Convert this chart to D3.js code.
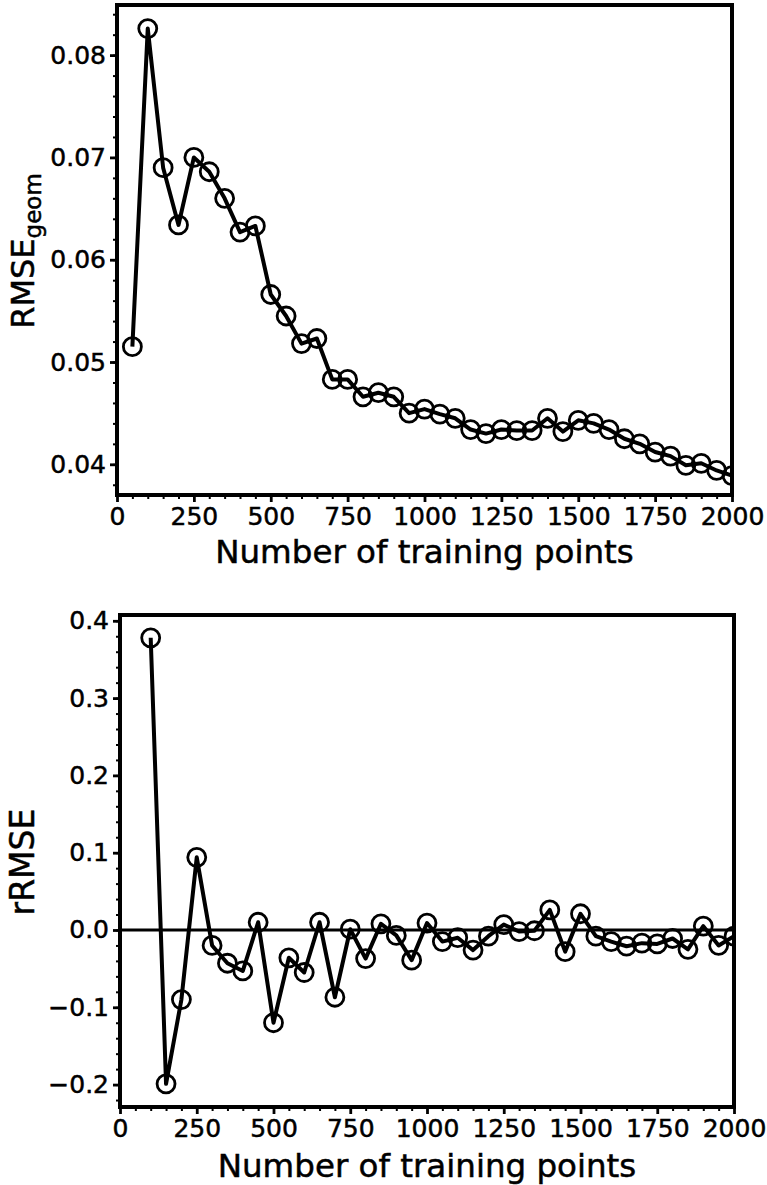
<!DOCTYPE html>
<html>
<head>
<meta charset="utf-8">
<script src="https://cdn.jsdelivr.net/npm/d3@7"></script>
<style>
    body { margin: 0; background: #fff; }
    svg { display: block; font-family: "DejaVu Sans", sans-serif; }
    text { stroke: #000; stroke-width: 0.5px; }
</style>
</head>
<body>
<div id="chart"></div>
<script>
// training set sizes
const trainTop = [50, 100, 150, 200, 250, 300, 350, 400, 450, 500, 550, 600, 650, 700, 750, 800, 850, 900, 950, 1000,
    1050, 1100, 1150, 1200, 1250, 1300, 1350, 1400, 1450, 1500, 1550, 1600, 1650, 1700, 1750, 1800, 1850, 1900, 1950, 2000];
const rmseGeom = [0.0515, 0.0826, 0.0690, 0.0634, 0.0700, 0.0686, 0.0660, 0.0627, 0.0633, 0.0566, 0.0545, 0.0518, 0.0523,
    0.0483, 0.0483, 0.0466, 0.0470, 0.0466, 0.0450, 0.0454, 0.0449, 0.0445, 0.0434, 0.0430, 0.0434, 0.0433, 0.0433,
    0.0445, 0.0432, 0.0443, 0.0440, 0.0434, 0.0425, 0.0420, 0.0412, 0.0408, 0.0399, 0.0401, 0.0394, 0.0389];

const trainBottom = trainTop.slice(1); // rRMSE starts at 100
const rRMSE = [0.378, -0.199, -0.090, 0.094, -0.020, -0.043, -0.053, 0.010, -0.120, -0.036, -0.055, 0.010, -0.087,
    0.001, -0.037, 0.008, -0.007, -0.039, 0.009, -0.015, -0.010, -0.026, -0.008, 0.007, -0.002, -0.001, 0.026,
    -0.028, 0.021, -0.008, -0.015, -0.021, -0.017, -0.018, -0.011, -0.025, 0.005, -0.020, -0.008];

const xTicks = [0, 250, 500, 750, 1000, 1250, 1500, 1750, 2000];
const topYTicks = [0.04, 0.05, 0.06, 0.07, 0.08];
const bottomYTicks = [-0.2, -0.1, 0.0, 0.1, 0.2, 0.3, 0.4];

const W = 767, H = 1185;

const svg = d3.select("#chart").append("svg")
    .attr("width", W)
    .attr("height", H);

// draw one panel
function panel(opts) {
    const { left, right, top, bottom, xs, ys, yDomain, yTicks, yMinorStep, yFmt, id } = opts;

    const x = d3.scaleLinear().domain([0, 2000]).range([left, right]);
    const y = d3.scaleLinear().domain(yDomain).range([bottom, top]);

    const g = svg.append("g");

    g.append("clipPath").attr("id", id)
        .append("rect")
        .attr("x", left).attr("y", top)
        .attr("width", right - left).attr("height", bottom - top);

    // minor ticks first
    const xMinor = d3.range(0, 2001, 50).filter(v => v % 250 !== 0);
    g.append("g")
        .attr("transform", `translate(0,${bottom})`)
        .call(d3.axisBottom(x).tickValues(xMinor).tickSize(4).tickFormat(""))
        .call(a => a.select(".domain").remove())
        .call(a => a.selectAll("line").attr("stroke-width", 2));

    const yMinor = d3.range(Math.ceil(yDomain[0] / yMinorStep), Math.floor(yDomain[1] / yMinorStep) + 1)
        .map(k => +(k * yMinorStep).toFixed(4));
    g.append("g")
        .attr("transform", `translate(${left},0)`)
        .call(d3.axisLeft(y).tickValues(yMinor).tickSize(4).tickFormat(""))
        .call(a => a.select(".domain").remove())
        .call(a => a.selectAll("line").attr("stroke-width", 2));

    // major ticks
    g.append("g")
        .attr("transform", `translate(0,${bottom})`)
        .call(d3.axisBottom(x).tickValues(xTicks).tickSize(7).tickPadding(5).tickFormat(d3.format("d")))
        .call(a => a.select(".domain").remove())
        .call(a => a.selectAll("line").attr("stroke-width", 2.8))
        .call(a => a.selectAll("text").attr("font-size", 25).attr("fill", "#000")
            .attr("font-family", "DejaVu Sans"));

    g.append("g")
        .attr("transform", `translate(${left},0)`)
        .call(d3.axisLeft(y).tickValues(yTicks).tickSize(7).tickPadding(4).tickFormat(yFmt))
        .call(a => a.select(".domain").remove())
        .call(a => a.selectAll("line").attr("stroke-width", 2.8))
        .call(a => a.selectAll("text").attr("font-size", 25).attr("fill", "#000")
            .attr("font-family", "DejaVu Sans"));

    const plot = g.append("g").attr("clip-path", `url(#${id})`);

    if (opts.zeroLine) {
        plot.append("line")
            .attr("x1", left).attr("x2", right)
            .attr("y1", y(0)).attr("y2", y(0))
            .attr("stroke", "#000").attr("stroke-width", 2.8);
    }

    const pts = xs.map((v, i) => [v, ys[i]]);

    plot.append("path")
        .datum(pts)
        .attr("fill", "none")
        .attr("stroke", "#000")
        .attr("stroke-width", 4)
        .attr("stroke-linejoin", "round")
        .attr("d", d3.line().x(d => x(d[0])).y(d => y(d[1])));

    plot.selectAll("circle")
        .data(pts)
        .join("circle")
        .attr("cx", d => x(d[0]))
        .attr("cy", d => y(d[1]))
        .attr("r", 9)
        .attr("fill", "none")
        .attr("stroke", "#000")
        .attr("stroke-width", 2.8);

    // frame
    g.append("rect")
        .attr("x", left).attr("y", top)
        .attr("width", right - left).attr("height", bottom - top)
        .attr("fill", "none")
        .attr("stroke", "#000")
        .attr("stroke-width", 4);

    // x label
    g.append("text")
        .attr("x", (left + right) / 2)
        .attr("y", opts.xLabelY)
        .attr("text-anchor", "middle")
        .attr("font-size", 32.5)
        .text("Number of training points");

    return { x, y, g };
}

const topPanel = panel({
    id: "clipTop", left: 117, right: 732, top: 5, bottom: 495,
    xs: trainTop, ys: rmseGeom, yDomain: [0.0370, 0.0849], yTicks: topYTicks, yMinorStep: 0.002,
    yFmt: d3.format(".2f"), xLabelY: 563
});

const bottomPanel = panel({
    id: "clipBottom", left: 120, right: 734, top: 615, bottom: 1107,
    xs: trainBottom, ys: rRMSE, yDomain: [-0.229, 0.4075], yTicks: bottomYTicks, yMinorStep: 0.02,
    yFmt: d => d3.format(".1f")(d).replace("-", "\u2212"), xLabelY: 1177, zeroLine: true
});

// y labels
const yl1 = svg.append("text")
    .attr("transform", "translate(34,251) rotate(-90)")
    .attr("text-anchor", "middle")
    .attr("font-size", 32);
yl1.append("tspan").text("RMSE");
yl1.append("tspan").attr("font-size", 23).attr("dy", 7).text("geom");

svg.append("text")
    .attr("transform", "translate(34,862) rotate(-90)")
    .attr("text-anchor", "middle")
    .attr("font-size", 33)
    .text("rRMSE");
</script>
</body>
</html>
